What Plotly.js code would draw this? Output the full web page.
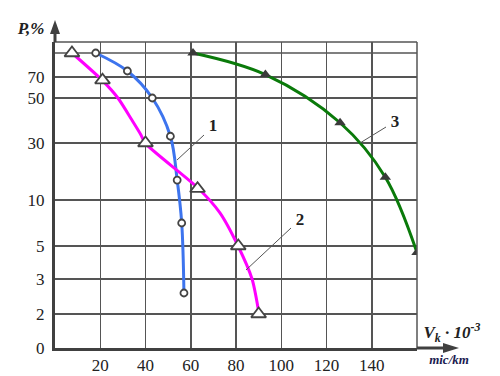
<!DOCTYPE html>
<html><head><meta charset="utf-8">
<script src="https://cdn.plot.ly/plotly-3.0.1.min.js"></script>
<style>html,body{margin:0;padding:0;background:#fff}#chart{width:500px;height:376px}</style>
</head><body><div id="chart"></div>
<script>
// ---- data ----
const xTicks = [20, 40, 60, 80, 100, 120, 140];
const pTickLabels = ['0', '2', '3', '5', '10', '30', '50', '70'];
const pTicks = [0, 2, 3, 5, 10, 30, 50, 70];

// curve 1 (circles)
const x1 = [18, 32, 43, 51, 54, 56, 57];
const p1 = [90, 75, 50, 33, 17, 7.5, 2.6];
// curve 2 (open triangles)
const x2 = [7.5, 21, 40, 63, 81, 90];
const p2 = [90, 67, 30, 14, 5, 2];
// curve 2 drawn line
const x2line = [7.5, 20.8, 27.8, 34.0, 38.0, 39.8, 63.2, 72.9, 80.9, 87.1, 90.2];
const p2line = [90, 67, 50, 40.2, 33.6, 30, 14.2, 8.6, 5, 3, 2];
// curve 3 (filled triangles)
const x3 = [61, 93, 126, 146, 160];
const p3 = [90, 72, 39, 18, 4.6];

const curveLabels = ['1', '2', '3'];
const yTitle = '<b><i>P,%</i></b>';
const xTitle = '<b><i>V<sub>k</sub> · 10<sup>-3</sup></i></b>';
const xUnit = '<b><i>mic/km</i></b>';

// ---- probability axis scale (P % -> axis units), piecewise ----
const scaleP = [0, 2, 3, 5, 10, 30, 50, 70, 90, 100];
const scaleU = [0, 34, 69, 102, 148, 205, 250, 271, 295, 306];
function sc(p) {
  for (let i = 1; i < scaleP.length; i++) {
    if (p <= scaleP[i]) {
      const t = (p - scaleP[i-1]) / (scaleP[i] - scaleP[i-1]);
      return scaleU[i-1] + t * (scaleU[i] - scaleU[i-1]);
    }
  }
  return scaleU[scaleU.length-1];
}

// plot area in page pixels
const W = 500, H = 376;
const L = 55, R = 417, T = 42, B = 348;

const serif = 'Liberation Serif';

// decoration text on an invisible full-page pixel overlay (x2/y2)
function textTrace(xp, yp, txt, size, color) {
  return {x: [xp], y: [yp], xaxis: 'x2', yaxis: 'y2', mode: 'text', text: [txt], textposition: 'middle center',
    textfont: {family: serif, size: size, color: color}, cliponaxis: false, hoverinfo: 'none'};
}
function seg(x0, y0, x1, y1, color, width) {
  return {type: 'line', xref: 'x2', yref: 'y2', x0: x0, y0: y0, x1: x1, y1: y1, line: {color: color, width: width}};
}
function tri(pts, color) {
  return {type: 'path', xref: 'x2', yref: 'y2', path: 'M ' + pts.map(p => p.join(',')).join(' L ') + ' Z',
    fillcolor: color, line: {width: 0}};
}

const traces = [
  {x: x1, y: p1.map(sc), mode: 'lines', line: {color: '#3d74ee', width: 3, shape: 'spline', smoothing: 1}, hoverinfo: 'none'},
  {x: x1, y: p1.map(sc), mode: 'markers',
   marker: {symbol: 'circle', size: 7, color: '#fff', line: {width: 1.8, color: '#444'}}, hoverinfo: 'none'},
  {x: x2line, y: p2line.map(sc), mode: 'lines', line: {color: '#ff00ff', width: 3, shape: 'spline', smoothing: 0.7}, hoverinfo: 'none'},
  {x: x2, y: p2.map(sc), mode: 'markers',
   marker: {symbol: 'triangle-up', size: 13, color: '#fff', line: {width: 1.8, color: '#444'}}, hoverinfo: 'none'},
  {x: x3, y: p3.map(sc), mode: 'lines', line: {color: '#0a7a0a', width: 3, shape: 'spline', smoothing: 1}, hoverinfo: 'none'},
  {x: x3, y: p3.map(sc), mode: 'markers',
   marker: {symbol: 'triangle-up', size: 10, color: '#3a3a3a', line: {width: 0}}, hoverinfo: 'none'},
  textTrace(31, 30, yTitle, 17, '#222'),
  textTrace(452, 334, xTitle, 17, '#222'),
  textTrace(449, 361, xUnit, 13, '#1b1b50'),
  textTrace(213, 127, '<b>' + curveLabels[0] + '</b>', 17, '#222'),
  textTrace(300, 221, '<b>' + curveLabels[1] + '</b>', 17, '#222'),
  textTrace(395, 123, '<b>' + curveLabels[2] + '</b>', 17, '#222')
];

const shapes = [
  seg(L, T, R, T, '#555', 1.5),
  seg(R, T, R, B, '#555', 1.5),
  {type: 'line', xref: 'x', yref: 'y', x0: 0, x1: 160, y0: sc(90), y1: sc(90), line: {color: '#555', width: 1.5}, layer: 'below'},
  seg(L, T, L, 32, '#404040', 3),
  tri([[50, 34], [60, 34], [55, 20]], '#404040'),
  seg(R, B, 446, B, '#404040', 3),
  tri([[443, 343], [443, 353], [459, 348]], '#404040'),
  seg(204, 135, 177, 160, '#555', 1),
  seg(386, 127, 360, 143, '#555', 1),
  seg(291, 228, 246, 270, '#555', 1)
];

const layout = {
  width: W, height: H,
  margin: {l: 0, r: 0, t: 0, b: 0, pad: 0},
  paper_bgcolor: '#fff', plot_bgcolor: 'rgba(0,0,0,0)',
  showlegend: false,
  font: {family: serif, size: 17, color: '#222'},
  xaxis: {domain: [L / W, R / W], anchor: 'y', range: [0, 160], tickvals: xTicks, ticktext: xTicks.map(String),
    showgrid: true, gridcolor: '#555', gridwidth: 1.5, zeroline: false,
    showline: true, linecolor: '#404040', linewidth: 3, ticks: '', ticklabelstandoff: 0, fixedrange: true},
  yaxis: {domain: [(H - B) / H, (H - T) / H], anchor: 'x', range: [0, 306], tickvals: pTicks.map(sc), ticktext: pTickLabels,
    showgrid: true, gridcolor: '#555', gridwidth: 1.5, zeroline: false,
    showline: true, linecolor: '#404040', linewidth: 3, ticks: '', ticklabelstandoff: 4, fixedrange: true},
  xaxis2: {domain: [0, 1], anchor: 'y2', range: [0, W], visible: false, fixedrange: true},
  yaxis2: {domain: [0, 1], anchor: 'x2', range: [H, 0], visible: false, fixedrange: true},
  shapes: shapes
};

Plotly.newPlot('chart', traces, layout, {staticPlot: true, displayModeBar: false});
</script>
</body></html>
